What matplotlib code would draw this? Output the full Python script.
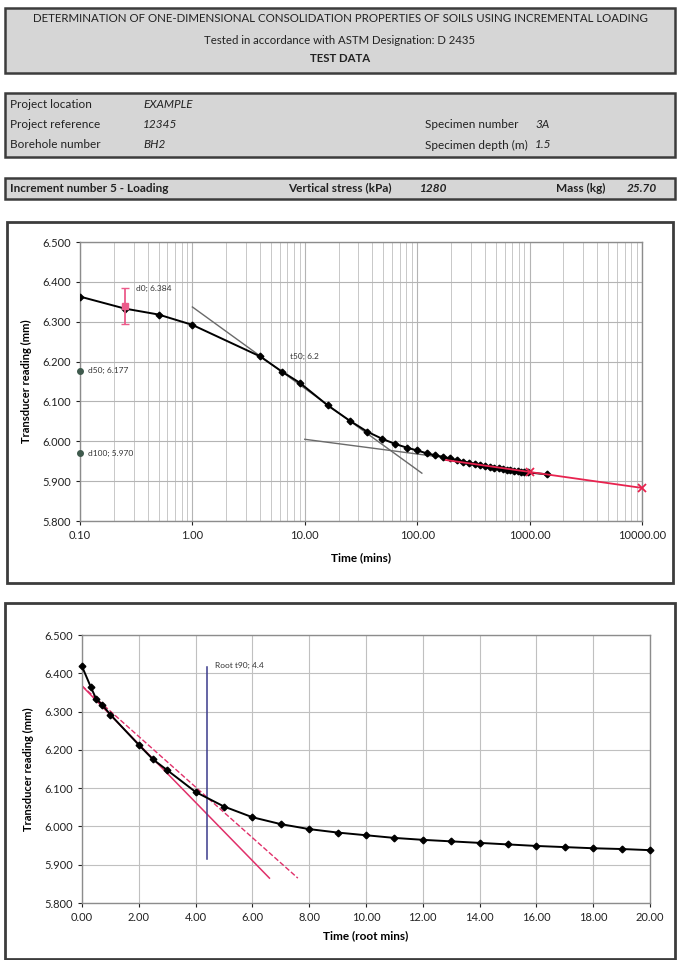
import numpy as np
import matplotlib
matplotlib.use("Agg")
import matplotlib.pyplot as plt
from matplotlib.patches import Rectangle
from matplotlib.ticker import FixedLocator, FuncFormatter, LogLocator

plt.rcParams['font.family'] = ['Lato', 'DejaVu Sans']

# readings (time in minutes, transducer reading in mm)
times = [0, 0.1, 0.25, 0.5, 1, 4, 6.25, 9, 16, 25, 36, 49, 64, 81, 100, 121, 144,
         169, 196, 225, 256, 289, 324, 361, 400, 441, 484, 529, 576, 625, 676,
         729, 784, 841, 900, 961, 1440]
readings = [6.418, 6.363, 6.333, 6.318, 6.292, 6.213, 6.175, 6.147, 6.090, 6.052,
            6.024, 6.006, 5.993, 5.984, 5.977, 5.970, 5.965, 5.961, 5.957, 5.953,
            5.949, 5.946, 5.943, 5.941, 5.938, 5.936, 5.934, 5.932, 5.930, 5.929,
            5.927, 5.926, 5.925, 5.924, 5.923, 5.922, 5.917]

# Casagrande construction
d0_time, d0_mid, d0_top, d0_bot = 0.25, 6.340, 6.384, 6.295
d50, d100, t50 = 6.177, 5.970, 6.2
tan1_t, tan1_d = [1, 110], [6.337, 5.920]
tan2_t, tan2_d = [10, 200], [6.005, 5.957]
fit_t, fit_d = [180, 1000, 10000], [5.953, 5.923, 5.883]
fit_mark_t, fit_mark_d = [1000, 10000], [5.923, 5.883]

# Taylor construction
root_t90 = 4.4
t90_line_d = [6.416, 5.915]
taylor_x, taylor_d = [0, 6.6], [6.367, 5.865]
taylor115_x, taylor115_d = [0, 7.6], [6.367, 5.865]

W, H = 679, 960
fig = plt.figure(figsize=(W / 100, H / 100), dpi=100)


def box(x0, y0, x1, y1, fc, lw=1.8, ec='#3c3c3c'):
    fig.patches.append(Rectangle((x0 / W, 1 - y1 / H), (x1 - x0) / W, (y1 - y0) / H,
                                 transform=fig.transFigure, facecolor=fc,
                                 edgecolor=ec, linewidth=lw, zorder=-5))


def txt(x, y, s, **kw):
    kw.setdefault('fontsize', 8.5)
    kw.setdefault('va', 'center')
    kw.setdefault('color', '#222222')
    fig.text(x / W, 1 - y / H, s, **kw)


# header boxes
grey = '#d6d6d6'
box(5, 8, 675, 73, grey)
box(5, 93, 675, 157, grey)
box(5, 178, 675, 199, grey)
txt(340, 18, 'DETERMINATION OF ONE-DIMENSIONAL CONSOLIDATION PROPERTIES OF SOILS USING INCREMENTAL LOADING',
    ha='center', fontsize=8.3)
txt(340, 41, 'Tested in accordance with ASTM Designation: D 2435', ha='center', fontsize=8.2)
txt(340, 59, 'TEST DATA', ha='center', fontweight='bold', fontsize=8.2)

txt(10, 104, 'Project location')
txt(143, 104, 'EXAMPLE', style='italic')
txt(10, 124, 'Project reference')
txt(143, 124, '12345', style='italic')
txt(10, 145, 'Borehole number')
txt(143, 145, 'BH2', style='italic')
txt(425, 124, 'Specimen number')
txt(535, 124, '3A', style='italic')
txt(425, 145, 'Specimen depth (m)')
txt(535, 145, '1.5', style='italic')

txt(10, 188, 'Increment number 5 - Loading', fontweight='bold')
txt(288, 188, 'Vertical stress (kPa)', fontweight='bold')
txt(420, 188, '1280', fontweight='bold', style='italic')
txt(556, 188, 'Mass (kg)', fontweight='bold')
txt(627, 188, '25.70', fontweight='bold', style='italic')

# chart frames
box(7, 222, 673, 583, 'white', lw=2)
box(5, 603, 675, 959, 'white', lw=2)

ax1 = fig.add_axes([80 / W, 1 - 521 / H, (642 - 80) / W, (521 - 242) / H])
ax2 = fig.add_axes([82 / W, 1 - 903 / H, (650 - 82) / W, (903 - 635) / H])

for ax in (ax1, ax2):
    ax.set_zorder(2)
    for s in ax.spines.values():
        s.set_color('#8c8c8c')
        s.set_linewidth(1.0)
    ax.tick_params(labelsize=8, colors='#222222', length=3, width=0.8)
    ax.set_ylim(5.8, 6.5)
    ax.yaxis.set_major_locator(FixedLocator(np.arange(5.8, 6.51, 0.1)))
    ax.yaxis.set_major_formatter(FuncFormatter(lambda v, p: f'{v:.3f}'))
    ax.set_ylabel('Transducer reading (mm)', fontsize=8, fontweight='bold', labelpad=7)
    ax.set_axisbelow(True)

# log time chart
ax1.set_xscale('log')
ax1.set_xlim(0.1, 10000)
ax1.xaxis.set_major_locator(LogLocator(base=10, numticks=10))
ax1.xaxis.set_minor_locator(LogLocator(base=10, subs=np.arange(2, 10), numticks=20))
ax1.xaxis.set_major_formatter(FuncFormatter(lambda v, p: f'{v:.2f}'))
ax1.xaxis.set_minor_formatter(FuncFormatter(lambda v, p: ''))
ax1.tick_params(which='minor', length=0)
ax1.grid(True, which='major', color='#b4b4b4', lw=0.8)
ax1.grid(True, which='minor', axis='x', color='#c8c8c8', lw=0.7)
ax1.set_xlabel('Time (mins)', fontsize=8.5, fontweight='bold', labelpad=8)

ax1.plot(tan1_t, tan1_d, color='#6a6a6a', lw=1.0, zorder=2)
ax1.plot(tan2_t, tan2_d, color='#6a6a6a', lw=1.0, zorder=2)
ax1.plot(times[1:], readings[1:], color='black', lw=1.4, marker='D', ms=3.4, zorder=3)
ax1.plot(fit_t, fit_d, color='#e8234f', lw=1.3, zorder=4)
ax1.plot(fit_mark_t, fit_mark_d, ls='none', marker='x', ms=6, mew=1.3,
         color='#e8234f', zorder=5, clip_on=False)
ax1.errorbar([d0_time], [d0_mid], yerr=[[d0_mid - d0_bot], [d0_top - d0_mid]],
             fmt='s', color='#ec5b8a', ms=4, capsize=3, elinewidth=1.3, zorder=5)
ax1.plot([0.1, 0.1], [d50, d100], ls='none', marker='o', ms=4,
         color='#3f5a4d', clip_on=False, zorder=6)
ax1.annotate('d0; 6.384', (d0_time, d0_top), xytext=(8, 0), textcoords='offset points',
             fontsize=6, va='center', color='#333333')
ax1.annotate('d50; 6.177', (0.1, d50), xytext=(6, 0), textcoords='offset points',
             fontsize=6, va='center', color='#333333')
ax1.annotate('d100; 5.970', (0.1, d100), xytext=(6, 0), textcoords='offset points',
             fontsize=6, va='center', color='#333333')
ax1.annotate('t50; 6.2', (t50, d50), xytext=(6, 10), textcoords='offset points',
             fontsize=6, va='center', color='#333333')

# root time chart
root_times = np.sqrt(times)
keep = root_times <= 20
ax2.set_xlim(0, 20)
ax2.xaxis.set_major_locator(FixedLocator(np.arange(0, 20.1, 2)))
ax2.xaxis.set_major_formatter(FuncFormatter(lambda v, p: f'{v:.2f}'))
ax2.grid(True, color='#c0c0c0', lw=0.8)
ax2.set_xlabel('Time (root mins)', fontsize=8.5, fontweight='bold', labelpad=5)

ax2.plot(taylor_x, taylor_d, color='#e0306a', lw=1.1, zorder=2)
ax2.plot(taylor115_x, taylor115_d, color='#e0306a', lw=1.0, ls='--', zorder=2)
ax2.plot([root_t90, root_t90], t90_line_d, color='#3a3a8c', lw=1.1, zorder=2)
ax2.plot(root_times[keep], np.array(readings)[keep], color='black', lw=1.4,
         marker='D', ms=3.4, zorder=3, clip_on=False)
ax2.annotate('Root t90; 4.4', (root_t90, t90_line_d[0]), xytext=(6, 1),
             textcoords='offset points', fontsize=6, va='center', color='#333333')

fig.savefig('out.png', dpi=100)
